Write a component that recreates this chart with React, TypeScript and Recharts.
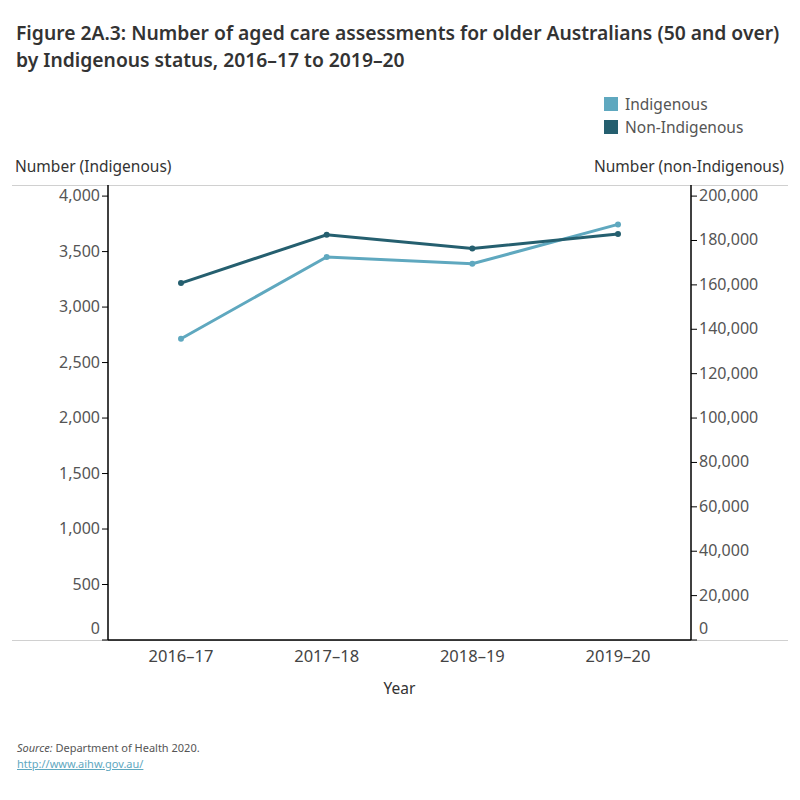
import React from 'react';
import { LineChart, Line, XAxis, YAxis, Label } from 'recharts';

const years = ['2016–17', '2017–18', '2018–19', '2019–20'];
const indigenous = [2714, 3452, 3390, 3745];
const nonIndigenous = [160800, 182600, 176400, 182900];
const leftTicks = [0, 500, 1000, 1500, 2000, 2500, 3000, 3500, 4000];
const rightTicks = [0, 20000, 40000, 60000, 80000, 100000, 120000, 140000, 160000, 180000, 200000];

const series = [
  { key: 'indigenous', name: 'Indigenous', color: '#5fa8bf', axis: 'left' },
  { key: 'nonIndigenous', name: 'Non-Indigenous', color: '#255f6f', axis: 'right' },
];

const data = years.map((year, i) => ({
  year,
  indigenous: indigenous[i],
  nonIndigenous: nonIndigenous[i],
}));

const font = '"Noto Sans", sans-serif';
const fmt = (v: number) => v.toLocaleString('en-US');

// zero label sits a bit above the baseline, like the original
const LeftTick = (props: any) => {
  const { x, y, payload } = props;
  return (
    <text x={x} y={payload.value === 0 ? y - 11 : y} dy={5} textAnchor="end" fill="#555" fontSize={16} fontFamily={font}>
      {fmt(payload.value)}
    </text>
  );
};

const RightTick = (props: any) => {
  const { x, y, payload } = props;
  return (
    <text x={x} y={payload.value === 0 ? y - 11 : y} dy={5} textAnchor="start" fill="#555" fontSize={16} fontFamily={font}>
      {fmt(payload.value)}
    </text>
  );
};

export default function App() {
  return (
    <div style={{ position: 'absolute', top: 0, left: 0, width: 800, height: 800, background: '#fff', fontFamily: font }}>
      <div style={{ position: 'absolute', left: 16, top: 19, fontSize: 19.3, fontWeight: 600, color: '#333', lineHeight: '27px', whiteSpace: 'nowrap' }}>
        Figure 2A.3: Number of aged care assessments for older Australians (50 and over)
        <br />
        by Indigenous status, 2016–17 to 2019–20
      </div>
      <div style={{ position: 'absolute', top: 92, left: 604, fontSize: 15.5, color: '#555' }}>
        {series.map(s => (
          <div key={s.key} style={{ display: 'flex', alignItems: 'center', height: 23 }}>
            <span style={{ width: 14, height: 14, background: s.color, display: 'inline-block', marginRight: 7 }} />
            {s.name}
          </div>
        ))}
      </div>
      <div style={{ position: 'absolute', left: 15, top: 155, fontSize: 15.5, color: '#333' }}>Number (Indigenous)</div>
      <div style={{ position: 'absolute', right: 16, top: 155, fontSize: 15.5, color: '#333' }}>Number (non-Indigenous)</div>
      <div style={{ position: 'absolute', left: 12, top: 185, width: 776, height: 1, background: '#d0d0d0' }} />
      <div style={{ position: 'absolute', left: 12, top: 640, width: 776, height: 1, background: '#d0d0d0' }} />
      <div style={{ position: 'absolute', top: 0, left: 0 }}>
        <LineChart width={800} height={800} data={data} margin={{ top: 185, right: 39, bottom: 130, left: 48 }}>
          <XAxis
            dataKey="year"
            padding={{ left: 73, right: 73 }}
            height={30}
            axisLine={{ stroke: '#000', strokeWidth: 1.5 }}
            tickLine={false}
            tickSize={0}
            tickMargin={10}
            tick={{ fill: '#444', fontSize: 16.5, fontFamily: font }}
          >
            <Label value="Year" position="bottom" offset={13} fill="#333" fontSize={15.5} fontFamily={font} />
          </XAxis>
          <YAxis
            yAxisId="left"
            orientation="left"
            width={60}
            domain={[0, 4100]}
            ticks={leftTicks}
            allowDataOverflow
            axisLine={{ stroke: '#000', strokeWidth: 1.5 }}
            tickLine={{ stroke: '#000' }}
            tickSize={6}
            tickMargin={2}
            tick={<LeftTick />}
          />
          <YAxis
            yAxisId="right"
            orientation="right"
            width={70}
            domain={[0, 205000]}
            ticks={rightTicks}
            allowDataOverflow
            axisLine={{ stroke: '#000', strokeWidth: 1.5 }}
            tickLine={{ stroke: '#000' }}
            tickSize={6}
            tickMargin={2}
            tick={<RightTick />}
          />
          {series.map(s => (
            <Line
              key={s.key}
              yAxisId={s.axis}
              dataKey={s.key}
              name={s.name}
              stroke={s.color}
              strokeWidth={3}
              dot={{ r: 3, fill: s.color, stroke: s.color, strokeWidth: 0 }}
              activeDot={false}
              isAnimationActive={false}
            />
          ))}
        </LineChart>
      </div>
      <div style={{ position: 'absolute', left: 17, top: 740, fontSize: 11, color: '#555', lineHeight: '16px' }}>
        <i>Source:</i> Department of Health 2020.
        <br />
        <span style={{ color: '#5fa8bf', textDecoration: 'underline' }}>http://www.aihw.gov.au/</span>
      </div>
    </div>
  );
}
